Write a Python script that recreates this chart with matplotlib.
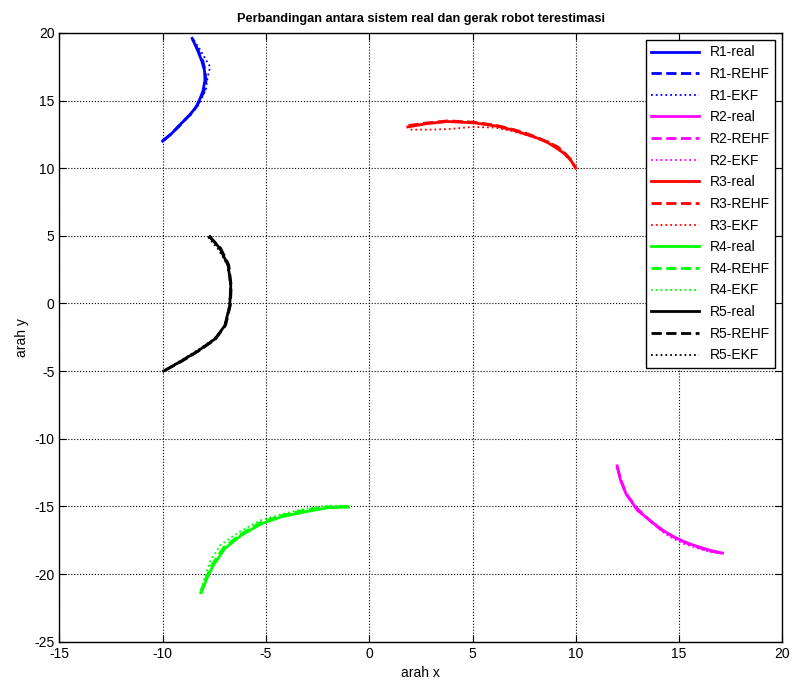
import matplotlib
matplotlib.use('Agg')
import matplotlib.pyplot as plt

plt.rcParams['font.family'] = ['Liberation Sans', 'DejaVu Sans']
plt.rcParams['axes.unicode_minus'] = False

# Robot 1 (blue)
r1_real_x = [-10.0, -9.6, -9.24, -8.9, -8.6, -8.35, -8.2, -8.05, -7.95, -7.97, -8.1, -8.3, -8.57]
r1_real_y = [12.0, 12.5, 13.1, 13.6, 14.1, 14.6, 15.1, 15.7, 16.5, 17.2, 17.9, 18.7, 19.6]
r1_rehf_x = [-10.0, -9.58, -9.2, -8.88, -8.55, -8.33, -8.15, -8.0, -7.9, -7.95, -8.05, -8.28, -8.55]
r1_rehf_y = [12.02, 12.55, 13.1, 13.65, 14.1, 14.65, 15.15, 15.7, 16.45, 17.25, 17.9, 18.7, 19.55]
r1_ekf_x = [-9.95, -9.55, -9.25, -8.85, -8.6, -8.3, -8.1, -7.9, -7.85, -7.7, -7.9, -8.2, -8.5]
r1_ekf_y = [12.05, 12.6, 13.05, 13.7, 14.15, 14.6, 15.2, 15.8, 16.5, 17.5, 18.0, 18.8, 19.5]

# Robot 2 (magenta)
r2_real_x = [12.0, 12.15, 12.42, 12.98, 13.4, 13.78, 14.25, 14.75, 15.3, 15.88, 16.5, 17.1]
r2_real_y = [-12.0, -13.0, -14.04, -15.28, -15.8, -16.27, -16.8, -17.26, -17.65, -17.96, -18.25, -18.45]
r2_rehf_x = [12.0, 12.18, 12.45, 13.0, 13.45, 13.8, 14.3, 14.8, 15.35, 15.9, 16.5, 17.1]
r2_rehf_y = [-12.05, -13.05, -14.1, -15.2, -15.85, -16.35, -16.9, -17.3, -17.7, -18.0, -18.3, -18.45]
r2_ekf_x = [12.02, 12.2, 12.5, 12.95, 13.5, 13.9, 14.35, 14.8, 15.2, 15.9, 16.45, 17.05]
r2_ekf_y = [-12.1, -13.1, -14.2, -15.3, -15.95, -16.5, -17.05, -17.45, -17.75, -18.1, -18.35, -18.5]

# Robot 3 (red)
r3_real_x = [1.87, 2.8, 3.8, 5.09, 6.22, 7.0, 7.5, 8.1, 8.63, 9.05, 9.43, 9.75, 10.0]
r3_real_y = [13.05, 13.3, 13.45, 13.35, 13.1, 12.8, 12.55, 12.25, 11.9, 11.5, 11.1, 10.6, 10.0]
r3_rehf_x = [1.9, 2.8, 3.8, 5.1, 6.2, 7.0, 7.55, 8.1, 8.6, 9.1, 9.45, 9.75, 10.0]
r3_rehf_y = [13.15, 13.35, 13.5, 13.4, 13.15, 12.85, 12.6, 12.3, 11.95, 11.6, 11.15, 10.65, 10.0]
r3_ekf_x = [2.0, 2.9, 3.9, 5.0, 6.1, 6.9, 7.5, 8.1, 8.65, 9.1, 9.45, 9.75, 10.0]
r3_ekf_y = [12.85, 12.85, 12.9, 13.05, 13.0, 12.75, 12.5, 12.2, 12.0, 11.55, 11.05, 10.55, 10.0]

# Robot 4 (green)
r4_real_x = [-1.0, -2.0, -3.1, -4.25, -5.2, -6.2, -7.0, -7.55, -7.87, -8.12]
r4_real_y = [-15.05, -15.1, -15.4, -15.77, -16.27, -17.14, -18.13, -19.37, -20.36, -21.35]
r4_rehf_x = [-1.0, -2.05, -3.15, -4.3, -5.25, -6.2, -7.05, -7.6, -7.9, -8.15]
r4_rehf_y = [-15.0, -15.05, -15.3, -15.7, -16.2, -17.05, -18.05, -19.3, -20.3, -21.3]
r4_ekf_x = [-1.1, -2.1, -3.2, -4.3, -5.3, -6.3, -7.2, -7.7, -7.95, -8.2]
r4_ekf_y = [-14.95, -14.95, -15.2, -15.6, -16.05, -16.9, -17.85, -19.05, -20.2, -21.5]

# Robot 5 (black)
r5_real_x = [-7.71, -7.23, -6.83, -6.7, -6.75, -6.99, -7.47, -8.28, -9.08, -9.95]
r5_real_y = [4.95, 4.07, 2.83, 1.34, -0.15, -1.64, -2.63, -3.5, -4.24, -5.0]
r5_rehf_x = [-7.75, -7.2, -6.8, -6.68, -6.72, -6.95, -7.45, -8.25, -9.05, -9.95]
r5_rehf_y = [4.95, 4.1, 2.85, 1.3, -0.1, -1.6, -2.65, -3.5, -4.25, -5.0]
r5_ekf_x = [-7.8, -7.3, -6.85, -6.72, -6.78, -7.0, -7.5, -8.3, -9.1, -9.95]
r5_ekf_y = [4.9, 4.0, 2.8, 1.35, -0.2, -1.7, -2.6, -3.45, -4.2, -5.0]

robots = ['R1', 'R2', 'R3', 'R4', 'R5']
colors = ['#0000ff', '#ff00ff', '#ff0000', '#00ff00', '#000000']
real = [(r1_real_x, r1_real_y), (r2_real_x, r2_real_y), (r3_real_x, r3_real_y),
        (r4_real_x, r4_real_y), (r5_real_x, r5_real_y)]
rehf = [(r1_rehf_x, r1_rehf_y), (r2_rehf_x, r2_rehf_y), (r3_rehf_x, r3_rehf_y),
        (r4_rehf_x, r4_rehf_y), (r5_rehf_x, r5_rehf_y)]
ekf = [(r1_ekf_x, r1_ekf_y), (r2_ekf_x, r2_ekf_y), (r3_ekf_x, r3_ekf_y),
       (r4_ekf_x, r4_ekf_y), (r5_ekf_x, r5_ekf_y)]

fig = plt.figure(figsize=(7.94, 6.86), dpi=100)
ax = fig.add_axes([0.0747, 0.0646, 0.9107, 0.8874])

for i in range(5):
    c = colors[i]
    ax.plot(real[i][0], real[i][1], '-', color=c, lw=2, label=robots[i] + '-real')
    ax.plot(rehf[i][0], rehf[i][1], '--', color=c, lw=2, label=robots[i] + '-REHF')
    ax.plot(ekf[i][0], ekf[i][1], ':', color=c, lw=1.3, label=robots[i] + '-EKF')

ax.set_xlim(-15, 20)
ax.set_ylim(-25, 20)
ax.set_xticks(range(-15, 21, 5))
ax.set_yticks(range(-25, 21, 5))
ax.grid(True, color='black', linestyle=':', linewidth=0.8)
ax.tick_params(direction='in', top=True, right=True, labelsize=10, length=5)
for s in ax.spines.values():
    s.set_linewidth(1)

ax.set_title('Perbandingan antara sistem real dan gerak robot terestimasi',
             fontsize=9.2, fontweight='bold', pad=8)
ax.set_xlabel('arah x', fontsize=10, labelpad=4)
ax.set_ylabel('arah y', fontsize=10, labelpad=4)

leg = ax.legend(loc='upper right', fontsize=10, handlelength=3.4, labelspacing=0.55,
                fancybox=False, framealpha=1, edgecolor='black', borderaxespad=0.5)
leg.get_frame().set_linewidth(1)

fig.savefig('out.png', dpi=100)
